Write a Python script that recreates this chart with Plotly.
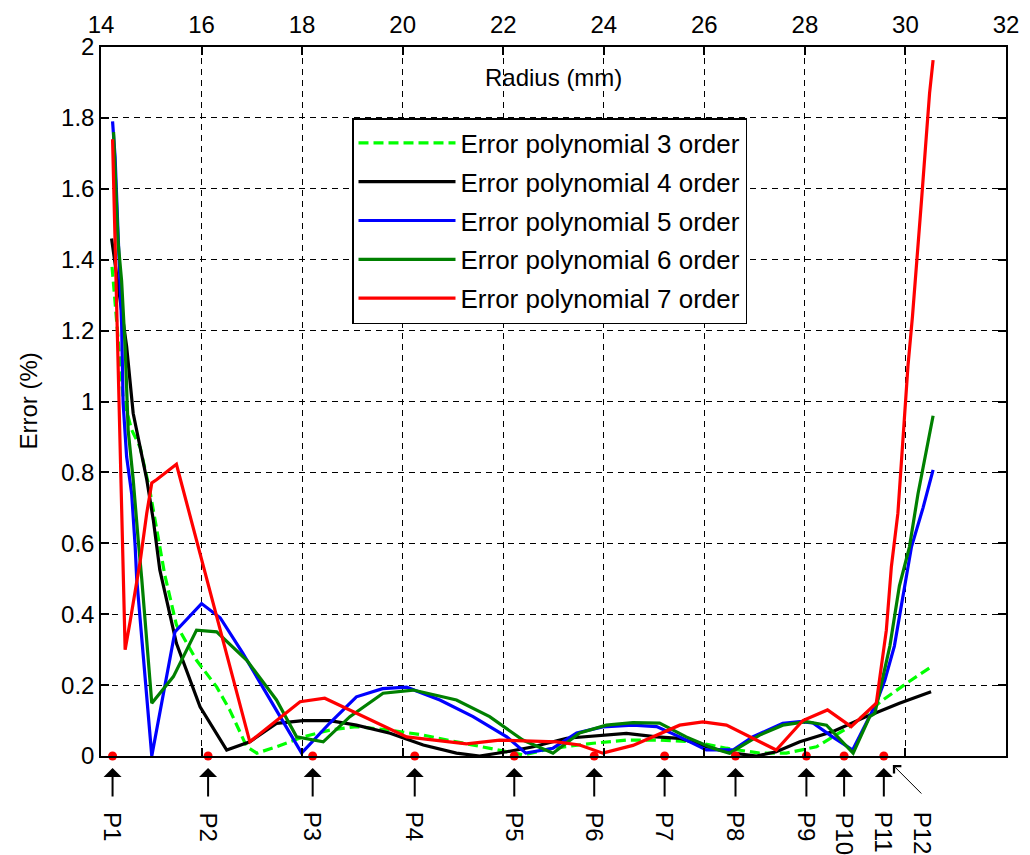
import plotly.graph_objects as go

# Error curves of the polynomial fits versus radius (mm)
x_p3 = [14.22, 14.44, 14.61, 14.78, 14.97, 15.27, 15.5, 15.9, 16.3, 16.56, 16.9, 17.1, 17.49,
        18.02, 18.55, 19.08, 19.75, 20.41, 21.07, 21.73, 22.4, 22.99, 23.79, 24.45, 25.11,
        25.78, 26.44, 27.1, 27.63, 28.23, 28.89, 29.55, 30.02, 30.55]
y_p3 = [1.38, 1.01, 0.92, 0.87, 0.75, 0.51, 0.37, 0.27, 0.195, 0.13, 0.026, 0.008, 0.026,
        0.054, 0.073, 0.083, 0.073, 0.059, 0.04, 0.022, 0.003, 0.022, 0.036, 0.045, 0.045,
        0.04, 0.022, 0.008, 0.008, 0.026, 0.083, 0.158, 0.205, 0.255]

x_p4 = [14.21, 14.51, 14.64, 14.78, 14.91, 15.04, 15.17, 15.5, 15.97, 16.5, 16.96, 17.49,
        18.02, 18.55, 19.08, 19.75, 20.41, 21.07, 21.53, 22.07, 22.6, 23.26, 23.92, 24.45,
        25.05, 25.51, 26.04, 26.57, 27.04, 27.43, 27.9, 28.56, 29.22, 29.88, 30.51]
y_p4 = [1.46, 1.155, 0.967, 0.87, 0.78, 0.666, 0.525, 0.318, 0.139, 0.017, 0.04, 0.092,
        0.10, 0.10, 0.087, 0.064, 0.031, 0.008, 0.0, 0.012, 0.026, 0.05, 0.059, 0.064,
        0.054, 0.05, 0.026, 0.008, 0.0, 0.012, 0.04, 0.069, 0.111, 0.149, 0.181]

x_p5 = [14.23, 14.28, 14.41, 14.44, 14.51, 14.61, 14.68, 14.71, 15.01, 15.47, 16.0, 16.37,
        16.82, 17.49, 17.99, 18.55, 19.08, 19.6, 20.08, 20.74, 21.4, 22.07, 22.45, 22.99,
        23.46, 23.98, 24.58, 25.05, 25.51, 26.04, 26.57, 26.96, 27.56, 27.9, 28.16, 28.55,
        28.95, 29.42, 29.59, 29.78, 29.95, 30.12, 30.35, 30.55]
y_p5 = [1.79, 1.69, 1.22, 0.995, 0.844, 0.74, 0.59, 0.50, 0.0, 0.35, 0.43, 0.39,
        0.29, 0.13, 0.008, 0.093, 0.167, 0.19, 0.194, 0.158, 0.111, 0.054, 0.008, 0.022,
        0.065, 0.082, 0.087, 0.083, 0.054, 0.017, 0.017, 0.054, 0.092, 0.097, 0.093, 0.054,
        0.017, 0.149, 0.214, 0.31, 0.45, 0.59, 0.70, 0.807]

x_p6 = [14.25, 14.28, 14.34, 14.41, 14.48, 14.54, 14.64, 14.74, 14.81, 15.01, 15.44, 15.9,
        16.3, 16.9, 17.49, 17.89, 18.42, 18.95, 19.61, 20.21, 21.07, 21.73, 22.39, 22.99,
        23.52, 24.05, 24.58, 25.11, 25.64, 26.17, 26.5, 27.1, 27.56, 28.03, 28.43, 28.96,
        29.29, 29.39, 29.69, 29.88, 30.08, 30.25, 30.42, 30.55]
y_p6 = [1.76, 1.66, 1.45, 1.34, 1.155, 0.92, 0.78, 0.61, 0.50, 0.149, 0.224, 0.355,
        0.35, 0.27, 0.158, 0.054, 0.04, 0.111, 0.177, 0.186, 0.158, 0.111, 0.045, 0.008,
        0.065, 0.087, 0.094, 0.093, 0.054, 0.022, 0.008, 0.059, 0.087, 0.097, 0.087, 0.008,
        0.111, 0.12, 0.31, 0.48, 0.59, 0.74, 0.87, 0.96]

x_p7 = [14.23, 14.48, 14.58, 14.78, 14.91, 15.01, 15.11, 15.5, 16.96, 17.96, 18.45, 20.08,
        21.27, 21.93, 23.06, 23.52, 23.98, 24.58, 25.51, 25.97, 26.44, 27.43, 27.96, 28.45,
        28.92, 29.42, 29.62, 29.72, 29.85, 29.92, 29.98, 30.05, 30.14, 30.22, 30.32, 30.40,
        30.48, 30.55]
y_p7 = [1.74, 0.30, 0.38, 0.55, 0.685, 0.77, 0.78, 0.823, 0.04, 0.153, 0.163, 0.054,
        0.034, 0.045, 0.04, 0.031, 0.008, 0.03, 0.087, 0.096, 0.087, 0.017, 0.10, 0.13,
        0.083, 0.149, 0.355, 0.534, 0.685, 0.826, 0.967, 1.10, 1.24, 1.40, 1.568, 1.72,
        1.87, 1.963]

# Measurement points P1..P11 on the radius axis
point_x = [14.23, 16.13, 18.21, 20.24, 22.22, 23.81, 25.21, 26.62, 28.03, 28.78, 29.57]
point_names = ["P1", "P2", "P3", "P4", "P5", "P6", "P7", "P8", "P9", "P10", "P11"]
p12_name = "P12"
p12_x = 29.75

x_ticks = [14, 16, 18, 20, 22, 24, 26, 28, 30, 32]

FONT = "Liberation Sans, Arial, Helvetica, sans-serif"

series = [
    ("Error polynomial 3 order", x_p3, y_p3, "#00ff00", "10px,5px"),
    ("Error polynomial 4 order", x_p4, y_p4, "#000000", "solid"),
    ("Error polynomial 5 order", x_p5, y_p5, "#0000ff", "solid"),
    ("Error polynomial 6 order", x_p6, y_p6, "#008000", "solid"),
    ("Error polynomial 7 order", x_p7, y_p7, "#ff0000", "solid"),
]

fig = go.Figure()
for i, (name, xs, ys, color, dash) in enumerate(series):
    fig.add_trace(go.Scatter(
        x=xs, y=ys, mode="lines", name=name,
        line=dict(color=color, width=3.2, dash=dash),
        legendgroup=f"g{i}",
    ))

fig.add_trace(go.Scatter(
    x=point_x, y=[0] * len(point_x), mode="markers", showlegend=False,
    marker=dict(color="#ff0000", size=9, symbol="circle"),
    cliponaxis=False,
))

# plot area geometry in pixels (used to place decorations below the axis)
W, H = 1030, 855
ML, MR, MT, MB = 101, 24, 47, 99
PH = H - MT - MB


def paper_y(px):
    return (H - MB - px) / PH


annotations = []
for px_, name in zip(point_x, point_names):
    annotations.append(dict(
        x=px_, xref="x", y=paper_y(768), yref="paper", text="",
        showarrow=True, ax=0, ay=30, arrowhead=1, arrowsize=1.5, arrowwidth=2,
        arrowcolor="#000000",
    ))
    annotations.append(dict(
        x=px_, xref="x", y=paper_y(810), yref="paper", text=name, textangle=90,
        showarrow=False, xanchor="center", yanchor="top",
        font=dict(family=FONT, size=24, color="#000000"),
    ))

# P12 label with its thin pointer
annotations.append(dict(
    x=p12_x, xref="x", y=paper_y(765), yref="paper", text="",
    showarrow=True, ax=30, ay=30, arrowhead=4, arrowsize=2, arrowwidth=1,
    arrowcolor="#000000",
))
annotations.append(dict(
    x=p12_x + 30 / 50.3, xref="x", y=paper_y(810), yref="paper", text=p12_name,
    textangle=90, showarrow=False, xanchor="center", yanchor="top",
    font=dict(family=FONT, size=24, color="#000000"),
))

annotations.append(dict(
    x=0.5, xref="paper", y=paper_y(77), yref="paper", text="Radius (mm)",
    showarrow=False, xanchor="center", yanchor="middle",
    font=dict(family=FONT, size=24, color="#000000"),
))
annotations.append(dict(
    x=(28 - ML) / (W - ML - MR), xref="paper", y=0.5, yref="paper", text="Error (%)",
    textangle=-90, showarrow=False, xanchor="center", yanchor="middle",
    font=dict(family=FONT, size=24, color="#000000"),
))

axis_common = dict(
    showline=True, linecolor="#000000", linewidth=1.5, mirror="ticks",
    ticks="inside", ticklen=8, tickwidth=1.5, tickcolor="#000000",
    showgrid=True, gridcolor="#000000", gridwidth=1.2, griddash="6px,5px",
    zeroline=False, tickfont=dict(family=FONT, size=24, color="#000000"),
)

fig.update_layout(
    width=W, height=H,
    margin=dict(l=ML, r=MR, t=MT, b=MB, autoexpand=False),
    paper_bgcolor="#ffffff", plot_bgcolor="#ffffff",
    xaxis=dict(range=[14, 32], tickvals=x_ticks, side="top", ticklabelstandoff=3,
               **axis_common),
    yaxis=dict(range=[0, 2], dtick=0.2, **axis_common),
    legend=dict(
        x=(352 - ML) / (W - ML - MR), y=paper_y(118), xanchor="left", yanchor="top",
        bgcolor="#ffffff", bordercolor="#000000", borderwidth=1.5,
        font=dict(family=FONT, size=26, color="#000000"),
        itemwidth=97, tracegroupgap=2,
    ),
    annotations=annotations,
    showlegend=True,
)

fig.write_html("out.html")
